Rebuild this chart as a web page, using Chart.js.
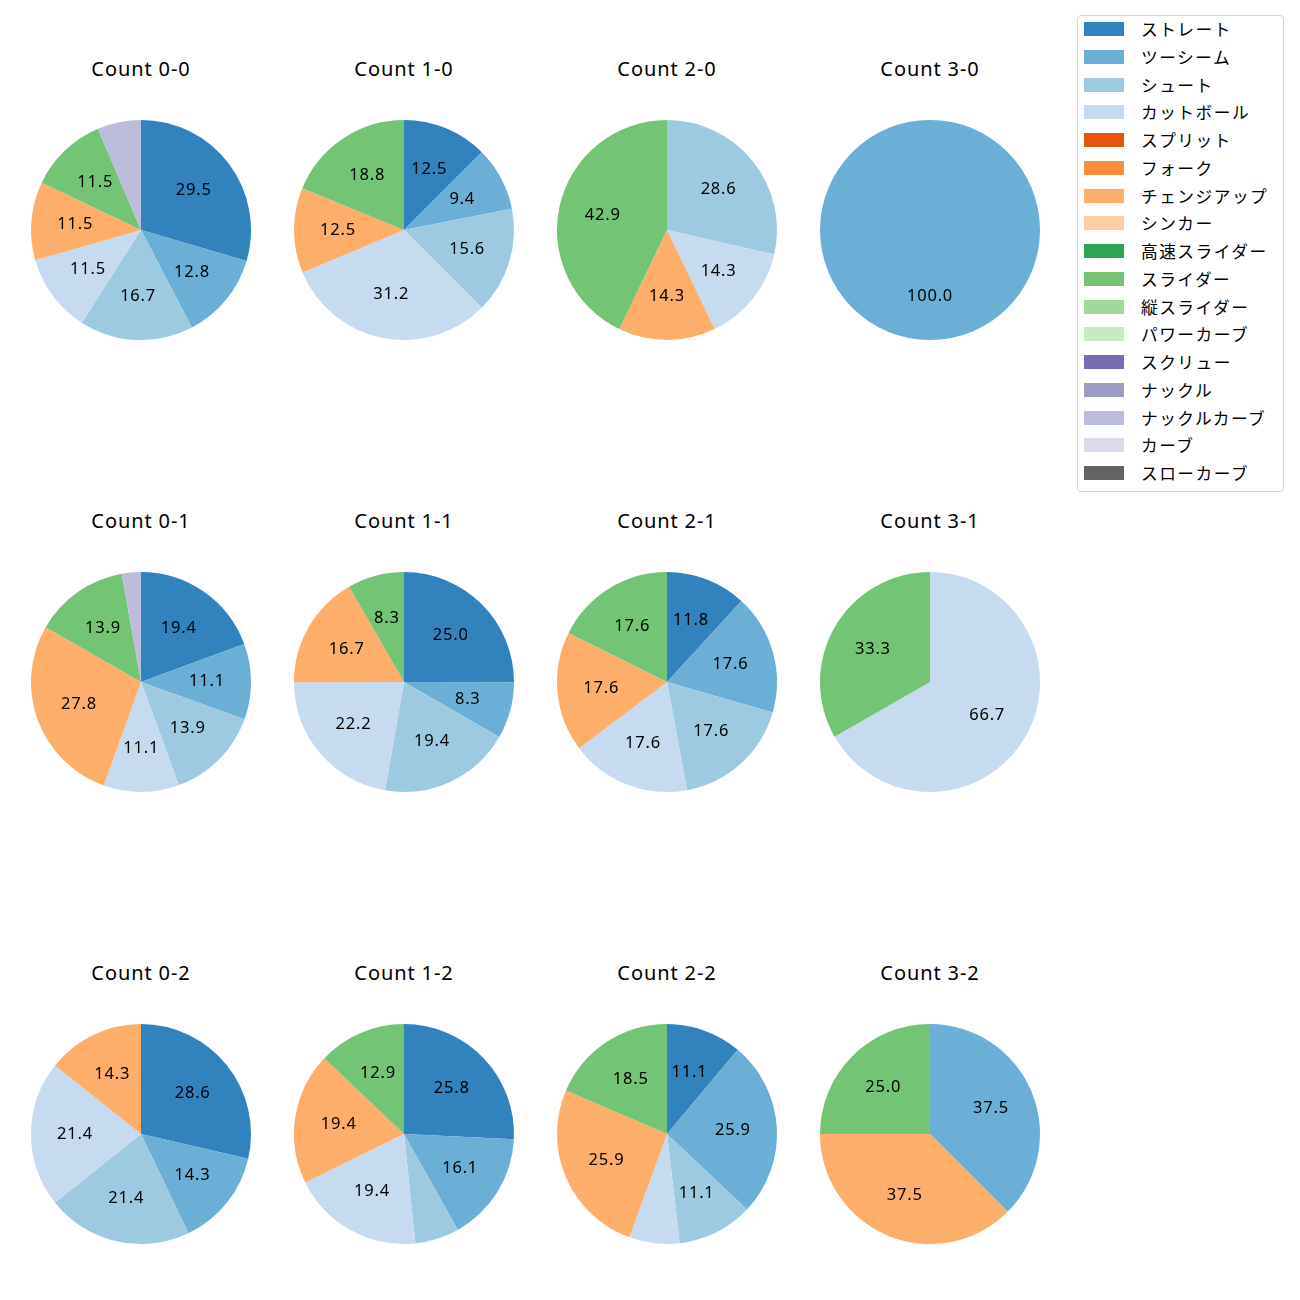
<!DOCTYPE html>
<html>
<head>
<meta charset="utf-8">
<script src="https://cdn.jsdelivr.net/npm/chart.js@4.4.0/dist/chart.umd.min.js"></script>
<style>
  body { margin: 0; background: #fff; font-family: "Noto Sans", "Noto Sans CJK JP", sans-serif; }
  #wrap { position: relative; width: 1300px; height: 1300px; }
  .pie { position: absolute; width: 240px; height: 240px; }
  .ttl { position: absolute; width: 240px; text-align: center; font-size: 20px; color: #000;
         line-height: 24px; letter-spacing: 0.9px; }
  #legend { position: absolute; left: 1077px; top: 15px; width: 207px; height: 477px;
            border: 1px solid #d5d5d5; border-radius: 4px; box-sizing: border-box; }
  .item { position: absolute; left: 6px; height: 24px; font-size: 16.7px; line-height: 24px; color: #000;
          font-family: "Noto Sans CJK JP", sans-serif; }
  .sw { position: absolute; left: 0; top: 5px; width: 40px; height: 14px; }
  .lbl { position: absolute; left: 57px; white-space: nowrap; letter-spacing: 1.5px; }
</style>
</head>
<body>
<div id="wrap"><div id="legend"></div></div>
<script>
// 球種と色 (tab20c)
const pitchTypes = ['ストレート', 'ツーシーム', 'シュート', 'カットボール', 'スプリット', 'フォーク',
  'チェンジアップ', 'シンカー', '高速スライダー', 'スライダー', '縦スライダー', 'パワーカーブ',
  'スクリュー', 'ナックル', 'ナックルカーブ', 'カーブ', 'スローカーブ'];
const pitchColors = ['#3182bd', '#6baed6', '#9ecae1', '#c6dbef', '#e6550d', '#fd8d3c',
  '#fdae6b', '#fdd0a2', '#31a354', '#74c476', '#a1d99b', '#c7e9c0',
  '#756bb1', '#9e9ac8', '#bcbddc', '#dadaeb', '#636363'];

const countLabels = ['Count 0-0', 'Count 1-0', 'Count 2-0', 'Count 3-0',
  'Count 0-1', 'Count 1-1', 'Count 2-1', 'Count 3-1',
  'Count 0-2', 'Count 1-2', 'Count 2-2', 'Count 3-2'];

// 割合 (%) : 球種の順番
const count00 = [29.5, 12.8, 16.7, 11.5, 0, 0, 11.5, 0, 0, 11.5, 0, 0, 0, 0, 6.4, 0, 0];
const count10 = [12.5, 9.4, 15.6, 31.2, 0, 0, 12.5, 0, 0, 18.8, 0, 0, 0, 0, 0, 0, 0];
const count20 = [0, 0, 28.6, 14.3, 0, 0, 14.3, 0, 0, 42.9, 0, 0, 0, 0, 0, 0, 0];
const count30 = [0, 100.0, 0, 0, 0, 0, 0, 0, 0, 0, 0, 0, 0, 0, 0, 0, 0];
const count01 = [19.4, 11.1, 13.9, 11.1, 0, 0, 27.8, 0, 0, 13.9, 0, 0, 0, 0, 2.8, 0, 0];
const count11 = [25.0, 8.3, 19.4, 22.2, 0, 0, 16.7, 0, 0, 8.3, 0, 0, 0, 0, 0, 0, 0];
const count21 = [11.8, 17.6, 17.6, 17.6, 0, 0, 17.6, 0, 0, 17.6, 0, 0, 0, 0, 0, 0, 0];
const count31 = [0, 0, 0, 66.7, 0, 0, 0, 0, 0, 33.3, 0, 0, 0, 0, 0, 0, 0];
const count02 = [28.6, 14.3, 21.4, 21.4, 0, 0, 14.3, 0, 0, 0, 0, 0, 0, 0, 0, 0, 0];
const count12 = [25.8, 16.1, 6.5, 19.4, 0, 0, 19.4, 0, 0, 12.9, 0, 0, 0, 0, 0, 0, 0];
const count22 = [11.1, 25.9, 11.1, 7.4, 0, 0, 25.9, 0, 0, 18.5, 0, 0, 0, 0, 0, 0, 0];
const count32 = [0, 37.5, 0, 0, 0, 0, 37.5, 0, 0, 25.0, 0, 0, 0, 0, 0, 0, 0];

const allCounts = [count00, count10, count20, count30, count01, count11, count21, count31,
  count02, count12, count22, count32];

const centerX = [141, 404, 667, 930];
const centerY = [230, 682, 1134];
const titleY = [57, 509, 961];

// ラベル描画 (8%未満は表示しない)
const pctLabels = {
  id: 'pctLabels',
  afterDatasetsDraw(chart) {
    const ctx = chart.ctx;
    const values = chart.data.datasets[0].data;
    const total = values.reduce((a, b) => a + b, 0);
    ctx.save();
    ctx.font = '16.5px "Noto Sans", "DejaVu Sans", sans-serif';
    ctx.letterSpacing = '0.8px';
    ctx.fillStyle = '#000';
    ctx.textAlign = 'center';
    ctx.textBaseline = 'middle';
    chart.getDatasetMeta(0).data.forEach((arc, i) => {
      const pct = values[i] / total * 100;
      if (pct < 8) return;
      const p = arc.getProps(['x', 'y', 'startAngle', 'endAngle', 'outerRadius'], true);
      const a = (p.startAngle + p.endAngle) / 2;
      const r = p.outerRadius * 0.6;
      ctx.fillText(values[i].toFixed(1), p.x + Math.cos(a) * r, p.y + Math.sin(a) * r);
    });
    ctx.restore();
  }
};

const wrap = document.getElementById('wrap');

allCounts.forEach((vals, k) => {
  const col = k % 4, row = Math.floor(k / 4);
  const title = document.createElement('div');
  title.className = 'ttl';
  title.style.left = (centerX[col] - 120) + 'px';
  title.style.top = titleY[row] + 'px';
  title.textContent = countLabels[k];
  wrap.appendChild(title);

  const box = document.createElement('div');
  box.className = 'pie';
  box.style.left = (centerX[col] - 120) + 'px';
  box.style.top = (centerY[row] - 120) + 'px';
  const cv = document.createElement('canvas');
  box.appendChild(cv);
  wrap.appendChild(box);

  new Chart(cv, {
    type: 'pie',
    data: {
      labels: pitchTypes,
      datasets: [{ data: vals, backgroundColor: pitchColors, borderWidth: 0 }]
    },
    options: {
      responsive: true,
      maintainAspectRatio: false,
      animation: false,
      layout: { padding: 10 },
      plugins: { legend: { display: false }, tooltip: { enabled: false } }
    },
    plugins: [pctLabels]
  });
});

// 凡例
const legend = document.getElementById('legend');
pitchTypes.forEach((name, i) => {
  const it = document.createElement('div');
  it.className = 'item';
  it.style.top = (1 + i * 27.75) + 'px';
  it.innerHTML = '<span class="sw" style="background:' + pitchColors[i] + '"></span><span class="lbl">' + name + '</span>';
  legend.appendChild(it);
});
</script>
</body>
</html>
